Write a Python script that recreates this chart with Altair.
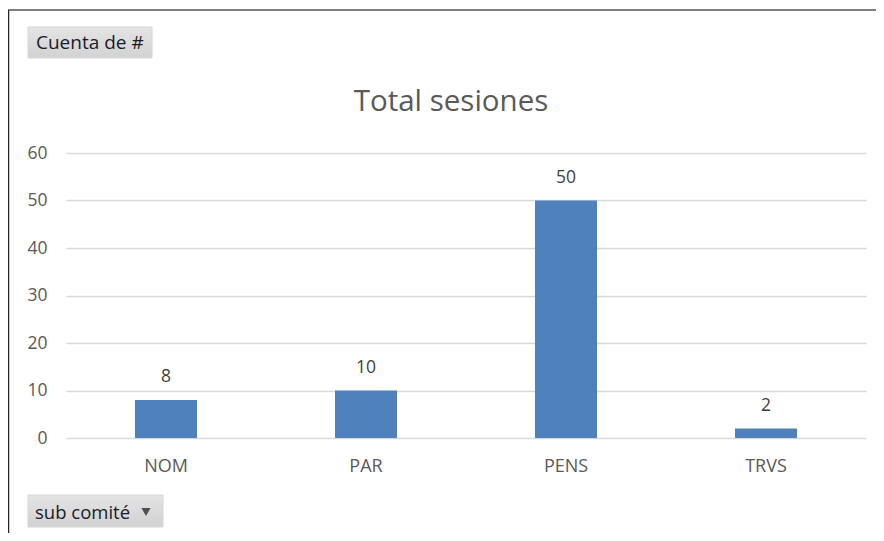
import altair as alt
import pandas as pd

categories = ["NOM", "PAR", "PENS", "TRVS"]
values = [8, 10, 50, 2]
y_ticks = [0, 10, 20, 30, 40, 50, 60]

title_text = "Total sesiones"
value_button = "Cuenta de #"
axis_button = "sub comité"

FONT = "Open Sans"
W, H = 800, 285

df = pd.DataFrame({"cat": categories, "val": values})

x_enc = alt.X(
    "cat:N",
    sort=categories,
    title=None,
    scale=alt.Scale(paddingInner=0.69, paddingOuter=0.345),
    axis=alt.Axis(
        domain=False, ticks=False, labelPadding=19, labelFontSize=18,
        labelColor="#595959", labelFont=FONT, labelAngle=0,
    ),
)
y_enc = alt.Y(
    "val:Q",
    title=None,
    scale=alt.Scale(domain=[0, 60], nice=False),
    axis=alt.Axis(
        values=y_ticks, domain=False, ticks=False, labelPadding=19,
        labelFontSize=17.5, labelColor="#595959", labelFont=FONT,
        grid=True, gridColor="#d9d9d9", gridWidth=1.3,
    ),
)

bars = alt.Chart(df).mark_bar(color="#4F81BD").encode(x=x_enc, y=y_enc)

labels = alt.Chart(df).mark_text(
    dy=-18, baseline="alphabetic", fontSize=17.5, color="#404040", font=FONT
).encode(x=alt.X("cat:N", sort=categories), y="val:Q", text="val:Q")

one = alt.Data(values=[{"a": 1}])

title = alt.Chart(one).mark_text(
    text=title_text, fontSize=29.5, color="#595959", font=FONT,
    align="center", baseline="alphabetic",
).encode(x=alt.value(385), y=alt.value(-42))

grad = alt.Gradient(
    gradient="linear",
    stops=[alt.GradientStop(color="#e4e4e4", offset=0),
           alt.GradientStop(color="#d2d2d2", offset=1)],
    x1=0, x2=0, y1=0, y2=1,
)

btn1 = alt.Chart(one).mark_rect(color=grad, stroke="#d6d6d6", strokeWidth=1).encode(
    x=alt.value(-38), x2=alt.value(86), y=alt.value(-126), y2=alt.value(-95)
)
btn1_t = alt.Chart(one).mark_text(
    text=value_button, fontSize=19, color="#1a1a2a", font=FONT,
    align="left", baseline="alphabetic",
).encode(x=alt.value(-30), y=alt.value(-104))

btn2 = alt.Chart(one).mark_rect(color=grad, stroke="#d6d6d6", strokeWidth=1).encode(
    x=alt.value(-38), x2=alt.value(97), y=alt.value(342), y2=alt.value(374)
)
btn2_t = alt.Chart(one).mark_text(
    text=axis_button, fontSize=18.5, color="#1a1a2a", font=FONT,
    align="left", baseline="alphabetic",
).encode(x=alt.value(-31), y=alt.value(366))
btn2_arrow = alt.Chart(one).mark_point(
    shape="triangle-down", filled=True, color="#505050", size=85, opacity=1
).encode(x=alt.value(80), y=alt.value(359))

top_line = alt.Chart(one).mark_rule(color="#7f7f7f", strokeWidth=2).encode(
    x=alt.value(-58), x2=alt.value(818), y=alt.value(-143)
)
left_line = alt.Chart(one).mark_rule(color="#262626", strokeWidth=1.5).encode(
    x=alt.value(-57.5), y=alt.value(-143), y2=alt.value(388)
)

chart = alt.layer(
    bars, labels, title, btn1, btn1_t, btn2, btn2_t, btn2_arrow, top_line, left_line
).properties(
    width=W, height=H,
    autosize=alt.AutoSizeParams(type="none"),
    padding={"left": 58, "top": 145, "right": 10, "bottom": 95},
    background="white",
).configure_view(stroke=None).configure_text(font=FONT)

chart.save("out.html", embed_options={"renderer": "svg", "actions": False})
